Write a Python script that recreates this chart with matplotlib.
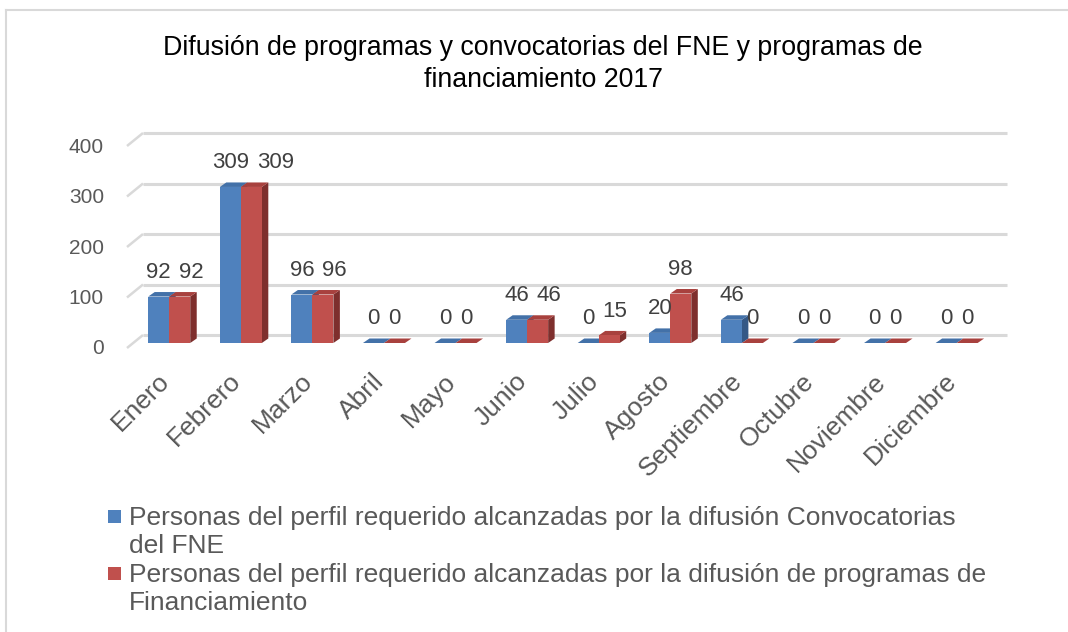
import matplotlib
matplotlib.use("Agg")
import matplotlib.pyplot as plt
from matplotlib.patches import Polygon, Rectangle
from matplotlib.lines import Line2D
from matplotlib.transforms import ScaledTranslation

plt.rcParams['font.family'] = ['Liberation Sans', 'DejaVu Sans']

# ---------------- data ----------------
months = ["Enero", "Febrero", "Marzo", "Abril", "Mayo", "Junio", "Julio",
          "Agosto", "Septiembre", "Octubre", "Noviembre", "Diciembre"]
convocatorias_fne = [92, 309, 96, 0, 0, 46, 0, 20, 46, 0, 0, 0]
programas_financiamiento = [92, 309, 96, 0, 0, 46, 15, 98, 0, 0, 0, 0]
y_ticks = [0, 100, 200, 300, 400]
title_lines = ["Difusión de programas y convocatorias del FNE y programas de",
               "financiamiento 2017"]
legend_blue = ["Personas del perfil requerido alcanzadas por la difusión Convocatorias",
               "del FNE"]
legend_red = ["Personas del perfil requerido alcanzadas por la difusión de programas de",
              "Financiamiento"]

# ---------------- styles ----------------
W, H = 1068, 632
BLUE, BLUE_TOP, BLUE_SIDE = "#4F81BD", "#4371A8", "#345886"
RED, RED_TOP, RED_SIDE = "#C0504D", "#A8413E", "#7E2F2D"
GRID = "#D9D9D9"
TXT = "#595959"

fig = plt.figure(figsize=(W / 100, H / 100), dpi=100)
fig.patch.set_facecolor("white")

# plane of the bar fronts (pixels)
left_px, right_px = 132, 996
zero_px, top_px = 343, 141
ax = fig.add_axes([left_px / W, (H - zero_px) / H, (right_px - left_px) / W,
                   (zero_px - top_px) / H])
xlo, xhi = -0.52, 11.55
ax.set_xlim(xlo, xhi)
ax.set_ylim(0, 400)
ax.axis("off")

ppc = (right_px - left_px) / (xhi - xlo)   # pixels per category
ppu = (zero_px - top_px) / 400.0           # pixels per value unit


def off(dx, dy_down):
    return ax.transData + ScaledTranslation(dx / 100, -dy_down / 100, fig.dpi_scale_trans)


# gridlines (back wall + left floor diagonal)
gb_dx, gb_dy = 11, -8
gf_dx, gf_dy = -5, 5
for v in y_ticks:
    ax.plot([xlo + gf_dx / ppc, xlo + gb_dx / ppc],
            [v - gf_dy / ppu, v - gb_dy / ppu], color=GRID, lw=1.8,
            clip_on=False, zorder=1, solid_capstyle="butt")
    ax.plot([xlo + gb_dx / ppc, xhi + gb_dx / ppc],
            [v - gb_dy / ppu, v - gb_dy / ppu], color=GRID, lw=2.2,
            clip_on=False, zorder=1, solid_capstyle="butt")
    ax.text(xlo, v, str(v), transform=off(-28, 6), ha="right", va="center",
            fontsize=15, color=TXT)

# bars with 3D depth
bw = 21 / ppc
ddx, ddy = 6.5 / ppc, 4.5 / ppu
z = 3
for i in range(len(months)):
    for k, (vals, cf, ct, cs) in enumerate([(convocatorias_fne, BLUE, BLUE_TOP, BLUE_SIDE),
                                            (programas_financiamiento, RED, RED_TOP, RED_SIDE)]):
        v = vals[i]
        x0 = i - bw + k * bw
        side = Polygon([(x0 + bw, 0), (x0 + bw + ddx, ddy), (x0 + bw + ddx, v + ddy), (x0 + bw, v)],
                       closed=True, facecolor=cs, edgecolor="none", zorder=z, clip_on=False)
        top = Polygon([(x0, v), (x0 + bw, v), (x0 + bw + ddx, v + ddy), (x0 + ddx, v + ddy)],
                      closed=True, facecolor=ct, edgecolor="none", zorder=z, clip_on=False)
        ax.add_patch(side)
        ax.add_patch(top)
        ax.bar([x0], [v], width=bw, align="edge", color=cf, zorder=z + 0.1,
               clip_on=False, linewidth=0)
        z += 0.2

# data labels
lab_fs = 16
em = lab_fs * 100 / 72
for i in range(len(months)):
    b, r = convocatorias_fne[i], programas_financiamiento[i]
    bc, rc = i - bw / 2, i + bw / 2
    wb, wr = len(str(b)) * 0.556 * em, len(str(r)) * 0.556 * em
    shift = 0.0
    if abs(b - r) * ppu < 16:
        need = (wb + wr) / 2 + 8
        have = (rc - bc) * ppc
        if need > have:
            shift = need - have
    ax.annotate(str(b), xy=(bc, b), xytext=(0, 24), textcoords="offset pixels",
                ha="center", va="center", fontsize=lab_fs, color="#404040", zorder=10,
                annotation_clip=False)
    ax.annotate(str(r), xy=(rc, r), xytext=(shift, 24), textcoords="offset pixels",
                ha="center", va="center", fontsize=lab_fs, color="#404040", zorder=10,
                annotation_clip=False)

# month labels
for i, m in enumerate(months):
    ax.text(i, 0, m, transform=off(-12, 26), rotation=45, rotation_mode="anchor",
            ha="right", va="top", fontsize=19, color=TXT)

# title
fig.text(543 / W, 1 - 55 / H, title_lines[0], ha="center", va="baseline",
         fontsize=19.3, color="black")
fig.text(543 / W, 1 - 87 / H, title_lines[1], ha="center", va="baseline",
         fontsize=19.3, color="black")

# legend
for (lines, col), base in zip([(legend_blue, BLUE), (legend_red, RED)], [525, 582]):
    fig.patches.append(Rectangle((108 / W, 1 - (base - 2) / H), 13 / W, 13 / H,
                                 transform=fig.transFigure, facecolor=col, edgecolor="none"))
    for j, line in enumerate(lines):
        fig.text(129 / W, 1 - (base + 28 * j) / H, line, ha="left", va="baseline",
                 fontsize=19, color=TXT)

# chart border
fig.add_artist(Line2D([6 / W, 6 / W], [0, 1 - 10 / H], transform=fig.transFigure,
                      color=GRID, lw=1.5))
fig.add_artist(Line2D([6 / W, 1], [1 - 10 / H, 1 - 10 / H], transform=fig.transFigure,
                      color=GRID, lw=1.5))

fig.savefig("out.png", dpi=100, facecolor="white")
